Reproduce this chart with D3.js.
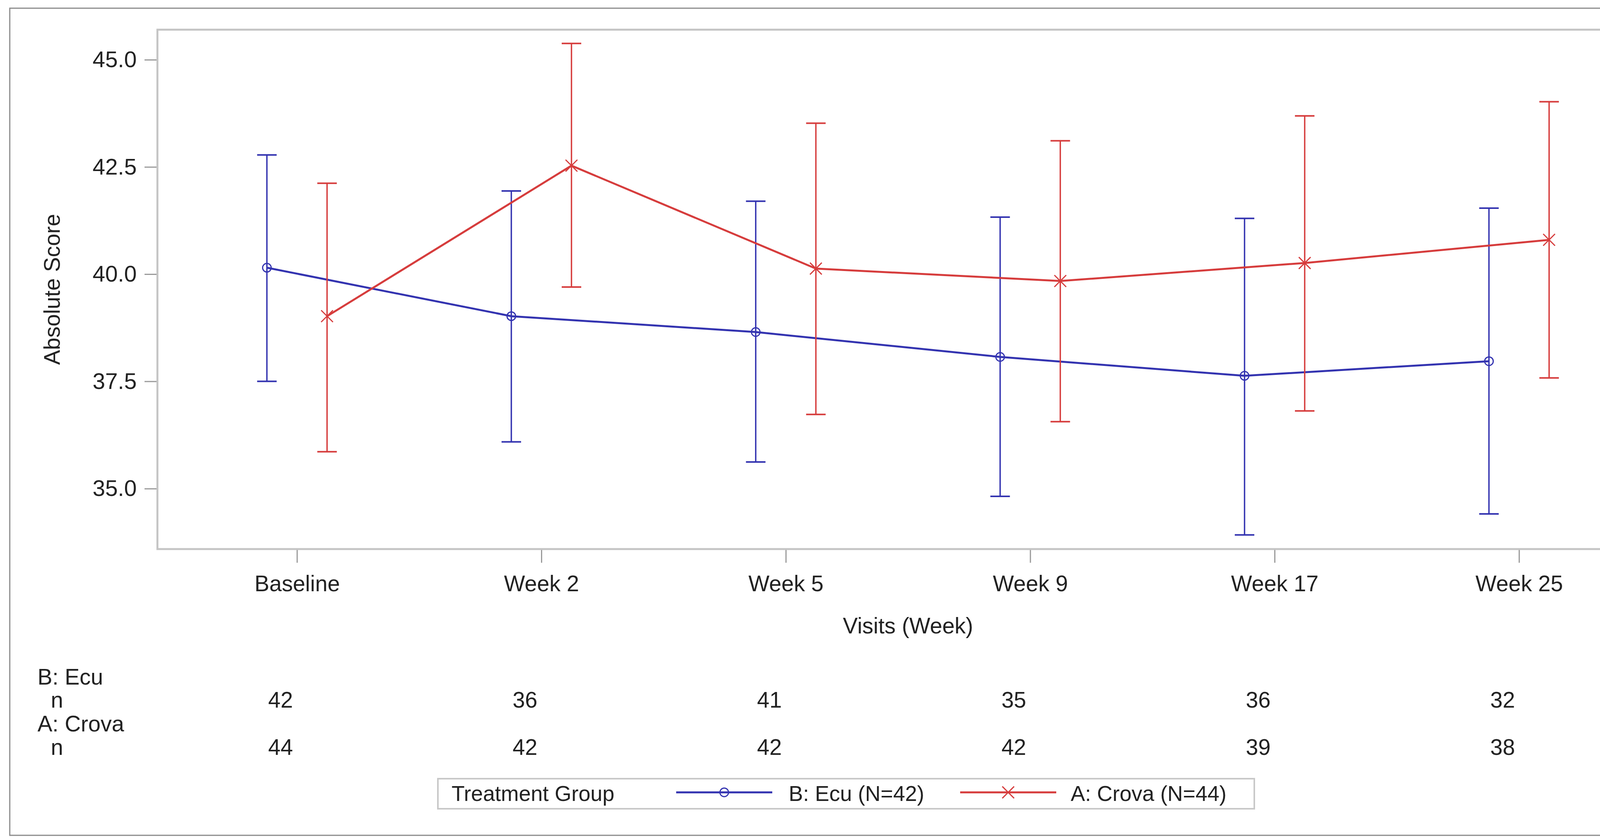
<!DOCTYPE html>
<html>
<head>
<meta charset="utf-8">
<script src="https://cdn.jsdelivr.net/npm/d3@7"></script>
<style>
  body { margin: 0; background: #fff; }
  svg text { font-family: "Liberation Sans", Arial, sans-serif; fill: #222; }
</style>
</head>
<body>
<div id="chart"></div>
<script>
// visits on the x axis
const visits = ["Baseline", "Week 2", "Week 5", "Week 9", "Week 17", "Week 25"];
const groups = ["B: Ecu", "A: Crova"];
const legendLabels = ["B: Ecu (N=42)", "A: Crova (N=44)"];

// B: Ecu
const ecuMean  = [40.15, 39.02, 38.65, 38.07, 37.63, 37.97];
const ecuLower = [37.50, 36.09, 35.62, 34.82, 33.92, 34.41];
const ecuUpper = [42.78, 41.94, 41.70, 41.33, 41.30, 41.54];
const ecuN     = [42, 36, 41, 35, 36, 32];

// A: Crova
const crovaMean  = [39.02, 42.53, 40.13, 39.84, 40.26, 40.80];
const crovaLower = [35.86, 39.70, 36.73, 36.56, 36.81, 37.58];
const crovaUpper = [42.12, 45.38, 43.52, 43.11, 43.69, 44.02];
const crovaN     = [44, 42, 42, 42, 39, 38];

const yTicks = [35.0, 37.5, 40.0, 42.5, 45.0];

function drawChart(to) {
  const W = 4380, H = 2151;
  const plot = {left: 403, top: 76, right: 4246, bottom: 1406};
  const colors = {"B: Ecu": "#3333b0", "A: Crova": "#d63c3c"};

  const series = [
    {name: groups[0], mean: ecuMean, lo: ecuLower, hi: ecuUpper, n: ecuN, legend: legendLabels[0], symbol: d3.symbolCircle, size: 380},
    {name: groups[1], mean: crovaMean, lo: crovaLower, hi: crovaUpper, n: crovaN, legend: legendLabels[1], symbol: d3.symbolX, size: 600}
  ];

  const x = d3.scalePoint().domain(visits).range([plot.left, plot.right]).padding(0.571);
  const dx = d3.scalePoint().domain(groups).range([-77, 77]);
  const y = d3.scaleLinear().domain([33.59, 45.70]).range([plot.bottom, plot.top]);

  const svg = d3.select(to).append("svg")
      .attr("width", W)
      .attr("height", H);

  // outer frame
  svg.append("rect")
      .attr("x", 25).attr("y", 21)
      .attr("width", 4322).attr("height", 2118)
      .attr("fill", "none").attr("stroke", "#8a8a8a").attr("stroke-width", 3);

  // y axis
  const yAxis = d3.axisLeft(y).tickValues(yTicks).tickFormat(d3.format(".1f")).tickSize(33).tickPadding(20);
  const gy = svg.append("g")
      .attr("transform", "translate(" + plot.left + ",0)")
      .call(yAxis);
  gy.select(".domain").remove();
  gy.selectAll(".tick line").attr("stroke", "#999").attr("stroke-width", 3);
  gy.selectAll(".tick text").attr("font-size", 58).attr("fill", "#333");

  // x axis
  const xAxis = d3.axisBottom(x).tickSize(35).tickPadding(33);
  const gx = svg.append("g")
      .attr("transform", "translate(0," + plot.bottom + ")")
      .call(xAxis);
  gx.select(".domain").remove();
  gx.selectAll(".tick line").attr("stroke", "#999").attr("stroke-width", 3);
  gx.selectAll(".tick text").attr("font-size", 57).attr("fill", "#333");

  // plot frame
  svg.append("rect")
      .attr("x", plot.left).attr("y", plot.top)
      .attr("width", plot.right - plot.left).attr("height", plot.bottom - plot.top)
      .attr("fill", "none").attr("stroke", "#c4c4c4").attr("stroke-width", 5);

  // axis titles
  svg.append("text")
      .attr("transform", "translate(153," + (plot.top + plot.bottom) / 2 + ") rotate(-90)")
      .attr("text-anchor", "middle")
      .attr("font-size", 57)
      .text("Absolute Score");

  svg.append("text")
      .attr("x", (plot.left + plot.right) / 2)
      .attr("y", 1622)
      .attr("text-anchor", "middle")
      .attr("font-size", 57)
      .text("Visits (Week)");

  // series: error bars, lines, markers
  series.forEach(s => {
    const c = colors[s.name];
    const pts = visits.map((v, i) => ({x: x(v) + dx(s.name), mean: s.mean[i], lo: s.lo[i], hi: s.hi[i]}));
    const g = svg.append("g");

    g.selectAll(".bar")
        .data(pts).enter().append("line")
        .attr("x1", d => d.x).attr("x2", d => d.x)
        .attr("y1", d => y(d.lo)).attr("y2", d => y(d.hi))
        .attr("stroke", c).attr("stroke-width", 3.5);

    ["lo", "hi"].forEach(k => {
      g.selectAll(".cap-" + k)
          .data(pts).enter().append("line")
          .attr("x1", d => d.x - 25).attr("x2", d => d.x + 25)
          .attr("y1", d => y(d[k])).attr("y2", d => y(d[k]))
          .attr("stroke", c).attr("stroke-width", 4);
    });

    const line = d3.line().x(d => d.x).y(d => y(d.mean));
    g.append("path")
        .attr("d", line(pts))
        .attr("fill", "none").attr("stroke", c).attr("stroke-width", 5);

    g.selectAll(".marker")
        .data(pts).enter().append("path")
        .attr("transform", d => "translate(" + d.x + "," + y(d.mean) + ")")
        .attr("d", d3.symbol(s.symbol, s.size))
        .attr("fill", "none").attr("stroke", c).attr("stroke-width", 3);
  });

  // n table under the axis
  const rowY = [1753, 1812, 1873, 1933];
  series.forEach((s, j) => {
    svg.append("text")
        .attr("x", 96).attr("y", rowY[j * 2])
        .attr("font-size", 57)
        .text(s.name);
    svg.append("text")
        .attr("x", 130).attr("y", rowY[j * 2 + 1])
        .attr("font-size", 57)
        .text("n");
    svg.selectAll(".n" + j)
        .data(s.n).enter().append("text")
        .attr("x", (d, i) => x(visits[i]) - 42)
        .attr("y", rowY[j * 2 + 1])
        .attr("text-anchor", "middle")
        .attr("font-size", 57)
        .text(d => d);
  });

  // legend
  const lg = svg.append("g");
  lg.append("rect")
      .attr("x", 1121).attr("y", 1994)
      .attr("width", 2090).attr("height", 77)
      .attr("fill", "#fff").attr("stroke", "#c8c8c8").attr("stroke-width", 4);
  lg.append("text")
      .attr("x", 1156).attr("y", 2051)
      .attr("font-size", 55)
      .text("Treatment Group");

  const items = [{x0: 1731, tx: 2019}, {x0: 2458, tx: 2741}];
  series.forEach((s, j) => {
    const c = colors[s.name];
    const it = items[j];
    lg.append("line")
        .attr("x1", it.x0).attr("x2", it.x0 + 246)
        .attr("y1", 2029).attr("y2", 2029)
        .attr("stroke", c).attr("stroke-width", 5);
    lg.append("path")
        .attr("transform", "translate(" + (it.x0 + 123) + ",2029)")
        .attr("d", d3.symbol(s.symbol, s.size))
        .attr("fill", "none").attr("stroke", c).attr("stroke-width", 3);
    lg.append("text")
        .attr("x", it.tx).attr("y", 2051)
        .attr("font-size", 55)
        .text(s.legend);
  });
}

drawChart("#chart");
</script>
</body>
</html>
